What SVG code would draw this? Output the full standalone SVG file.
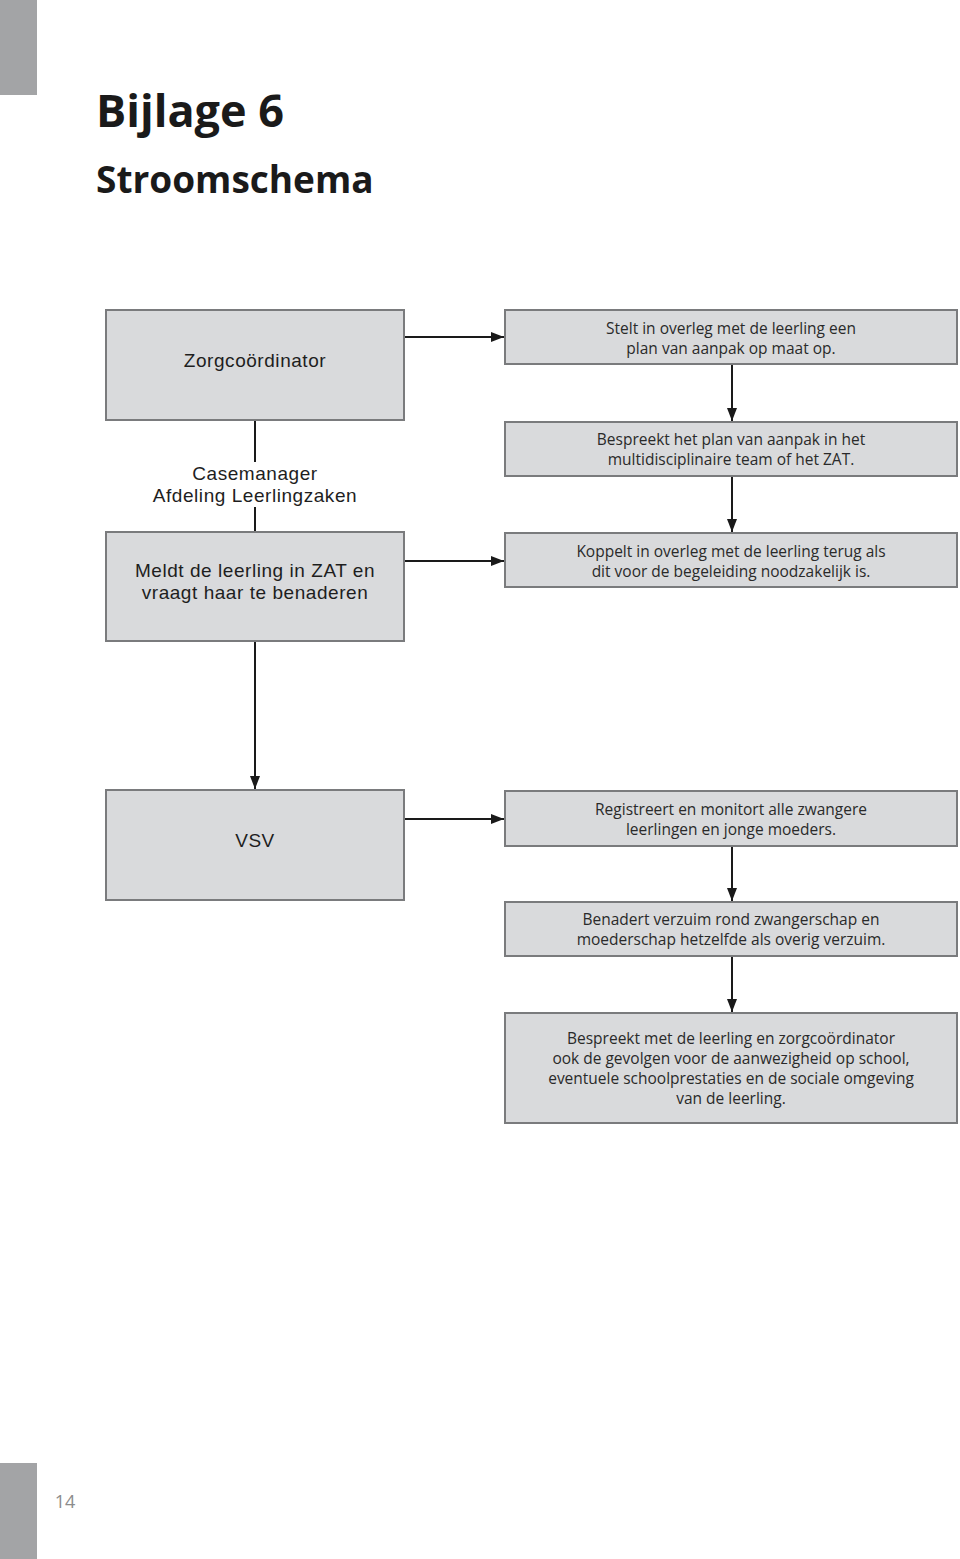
<svg xmlns="http://www.w3.org/2000/svg" width="960" height="1559" viewBox="0 0 960 1559">
<style>
.bar{fill:#a3a4a6}
.box{fill:#d9dadc;stroke:#7a7b7d;stroke-width:2}
.lt{font-family:"Liberation Sans",Arial,sans-serif;font-size:19px;letter-spacing:0.55px;fill:#1e1e1e;text-anchor:middle}
.rt{font-family:"Open Sans","Noto Sans",sans-serif;font-size:15.5px;fill:#2a2a2a;text-anchor:middle}
.ttl{font-family:"Open Sans","Noto Sans",sans-serif;font-weight:bold;fill:#1a1a1a}
.con{stroke:#1a1a1a;stroke-width:2;fill:none}
</style>
<defs>
<marker id="ah" markerWidth="13" markerHeight="10" refX="13" refY="5" orient="auto" markerUnits="userSpaceOnUse">
<path d="M0,0 L13,5 L0,10 Z" fill="#1a1a1a"/>
</marker>
</defs>
<rect width="960" height="1559" fill="#ffffff"/>
<rect class="bar" x="0" y="0" width="37" height="95"/>
<rect class="bar" x="0" y="1463" width="37" height="96"/>
<text x="65" y="1508" font-family="'Open Sans','Noto Sans',sans-serif" font-size="18" fill="#8c8c8c" text-anchor="middle">14</text>
<text class="ttl" x="96" y="127" font-size="45">Bijlage 6</text>
<text class="ttl" x="96" y="193" font-size="37">Stroomschema</text>

<g id="connectors">
<path class="con" d="M404,337 H504" marker-end="url(#ah)"/>
<path class="con" d="M404,561 H504" marker-end="url(#ah)"/>
<path class="con" d="M404,819 H504" marker-end="url(#ah)"/>
<path class="con" d="M255,420 V462"/>
<path class="con" d="M255,507 V532"/>
<path class="con" d="M255,641 V789" marker-end="url(#ah)"/>
<path class="con" d="M732,364 V421" marker-end="url(#ah)"/>
<path class="con" d="M732,476 V532" marker-end="url(#ah)"/>
<path class="con" d="M732,846 V901" marker-end="url(#ah)"/>
<path class="con" d="M732,956 V1012" marker-end="url(#ah)"/>
</g>

<g id="zorgcoordinator">
<rect class="box" x="106" y="310" width="298" height="110"/>
<text class="lt" x="255" y="367">Zorgcoördinator</text>
</g>
<g id="casemanager">
<text class="lt" x="255" y="480">Casemanager</text>
<text class="lt" x="255" y="502">Afdeling Leerlingzaken</text>
</g>
<g id="meldt">
<rect class="box" x="106" y="532" width="298" height="109"/>
<text class="lt" x="255" y="577">Meldt de leerling in ZAT en</text>
<text class="lt" x="255" y="599">vraagt haar te benaderen</text>
</g>
<g id="vsv">
<rect class="box" x="106" y="790" width="298" height="110"/>
<text class="lt" x="255" y="847">VSV</text>
</g>

<g id="stelt">
<rect class="box" x="505" y="310" width="452" height="54"/>
<text class="rt" x="731" y="334">Stelt in overleg met de leerling een</text>
<text class="rt" x="731" y="354">plan van aanpak op maat op.</text>
</g>
<g id="bespreekt-plan">
<rect class="box" x="505" y="422" width="452" height="54"/>
<text class="rt" x="731" y="445">Bespreekt het plan van aanpak in het</text>
<text class="rt" x="731" y="465">multidisciplinaire team of het ZAT.</text>
</g>
<g id="koppelt">
<rect class="box" x="505" y="533" width="452" height="54"/>
<text class="rt" x="731" y="557">Koppelt in overleg met de leerling terug als</text>
<text class="rt" x="731" y="577">dit voor de begeleiding noodzakelijk is.</text>
</g>
<g id="registreert">
<rect class="box" x="505" y="791" width="452" height="55"/>
<text class="rt" x="731" y="815">Registreert en monitort alle zwangere</text>
<text class="rt" x="731" y="835">leerlingen en jonge moeders.</text>
</g>
<g id="benadert">
<rect class="box" x="505" y="902" width="452" height="54"/>
<text class="rt" x="731" y="925">Benadert verzuim rond zwangerschap en</text>
<text class="rt" x="731" y="945">moederschap hetzelfde als overig verzuim.</text>
</g>
<g id="bespreekt-gevolgen">
<rect class="box" x="505" y="1013" width="452" height="110"/>
<text class="rt" x="731" y="1044">Bespreekt met de leerling en zorgcoördinator</text>
<text class="rt" x="731" y="1064">ook de gevolgen voor de aanwezigheid op school,</text>
<text class="rt" x="731" y="1084">eventuele schoolprestaties en de sociale omgeving</text>
<text class="rt" x="731" y="1104">van de leerling.</text>
</g>
</svg>
